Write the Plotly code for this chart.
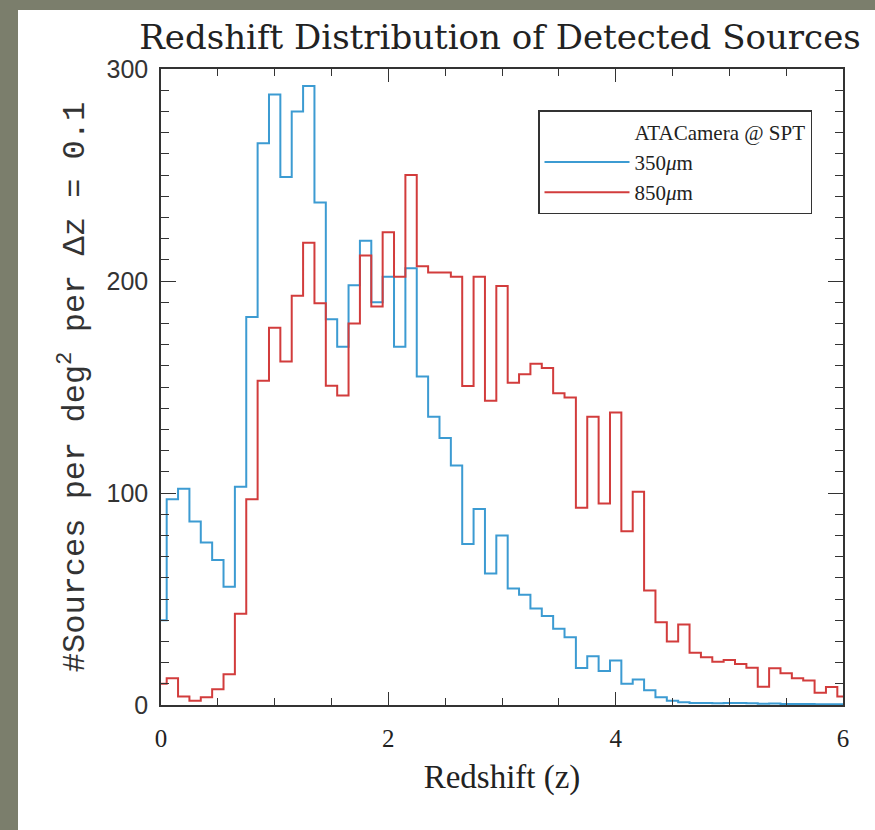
import plotly.graph_objects as go

# bin centres (redshift, dz = 0.1)
z = [0.0, 0.1, 0.2, 0.3, 0.4, 0.5, 0.6, 0.7, 0.8, 0.9,
     1.0, 1.1, 1.2, 1.3, 1.4, 1.5, 1.6, 1.7, 1.8, 1.9,
     2.0, 2.1, 2.2, 2.3, 2.4, 2.5, 2.6, 2.7, 2.8, 2.9,
     3.0, 3.1, 3.2, 3.3, 3.4, 3.5, 3.6, 3.7, 3.8, 3.9,
     4.0, 4.1, 4.2, 4.3, 4.4, 4.5, 4.6, 4.7, 4.8, 4.9,
     5.0, 5.1, 5.2, 5.3, 5.4, 5.5, 5.6, 5.7, 5.8, 5.9, 6.0]

n350 = [40, 97, 102, 86.5, 76.7, 68.4, 55.8, 103, 183, 265,
        288, 249, 280, 292, 237, 182, 169, 198, 219, 190,
        202, 169, 206, 155, 136, 126, 113, 76, 92.5, 62,
        80, 55, 52, 45.5, 42, 36, 32, 17.5, 23, 16,
        21, 10, 12, 7, 3.6, 2, 1.3, 1.0, 1.0, 0.8,
        1.0, 0.9, 0.8, 0.6, 0.7, 0.5, 0.5, 0.5, 0.4, 0.4, 0.3]

n850 = [10, 12.6, 4, 2, 3.6, 7.4, 14.5, 43, 97, 153,
        178, 162, 193, 218, 189.5, 150.6, 146, 180, 212, 188,
        223, 202, 250, 207, 204, 204, 202, 150.5, 202, 143.5,
        197.6, 152, 156, 161, 159, 147, 145, 93, 136, 95,
        138, 82, 100.6, 54, 39, 30, 38, 24.7, 22.5, 20.4,
        21.2, 19.3, 17.6, 8.6, 17.3, 15, 12.6, 11.5, 5.8, 8.5, 4]

legend_header = "ATACamera @ SPT"
name350 = "350<i>μ</i>m"
name850 = "850<i>μ</i>m"

BLUE = "#3c9bd2"
RED = "#d23c3c"
AX = "#333333"

fig = go.Figure()
fig.add_trace(go.Scatter(x=[None], y=[None], mode="lines", name=legend_header,
                         line=dict(color="rgba(0,0,0,0)", width=2)))
fig.add_trace(go.Scatter(x=z, y=n350, mode="lines", name=name350,
                         line=dict(color=BLUE, width=2, shape="hvh")))
fig.add_trace(go.Scatter(x=z, y=n850, mode="lines", name=name850,
                         line=dict(color=RED, width=2, shape="hvh")))

L, R, T, B = 161, 32, 69, 125
W, H = 875, 830
pw, ph = W - L - R, H - T - B

def px(xp):
    return (xp - L) / pw

def py(yp):
    return (H - B - yp) / ph

fig.add_shape(type="rect", xref="paper", yref="paper", layer="below",
              x0=px(18), x1=px(880), y0=py(835), y1=py(10),
              fillcolor="white", line=dict(width=0))

fig.update_layout(
    width=W, height=H,
    margin=dict(l=L, r=R, t=T, b=B, autoexpand=False),
    paper_bgcolor="#7b7e6c",
    plot_bgcolor="rgba(0,0,0,0)",
    title=dict(text="Redshift Distribution of Detected Sources",
               font=dict(family="DejaVu Serif", size=34, color="#222"),
               xref="paper", x=px(500), xanchor="center",
               yref="container", y=1 - 37 / H, yanchor="middle"),
    legend=dict(x=px(812), xanchor="right", y=py(110), yanchor="top",
                bgcolor="white", bordercolor=AX, borderwidth=1.5,
                font=dict(family="Liberation Serif", size=21, color="#222"),
                tracegroupgap=0, itemwidth=85),
    showlegend=True,
)

fig.update_xaxes(range=[0, 6], showline=True, linecolor=AX, linewidth=1.5,
                 mirror="ticks", ticks="inside", ticklen=13, tickcolor=AX,
                 tickwidth=1.2, dtick=2, tick0=0, showgrid=False, zeroline=False,
                 minor=dict(dtick=0.5, ticklen=7, ticks="inside", tickcolor=AX,
                            tickwidth=1.2, showgrid=False),
                 tickfont=dict(family="Liberation Serif", size=25, color="#222"),
                 ticklabelstandoff=10,
                 title=dict(text="Redshift (z)", standoff=14,
                            font=dict(family="Liberation Serif", size=33, color="#222")))

fig.update_yaxes(range=[0, 300], showline=True, linecolor=AX, linewidth=1.5,
                 mirror="ticks", ticks="inside", ticklen=15, tickcolor=AX,
                 tickwidth=1.2, dtick=100, tick0=0, showgrid=False, zeroline=False,
                 minor=dict(dtick=10, ticklen=8, ticks="inside", tickcolor=AX,
                            tickwidth=1.2, showgrid=False),
                 tickfont=dict(family="Liberation Sans", size=25, color="#333"),
                 ticklabelstandoff=6,
                 title=dict(text="#Sources per deg<sup>2</sup> per Δz = 0.1", standoff=12,
                            font=dict(family="Liberation Mono", size=32, color="#333")))

fig.write_html("out.html")
